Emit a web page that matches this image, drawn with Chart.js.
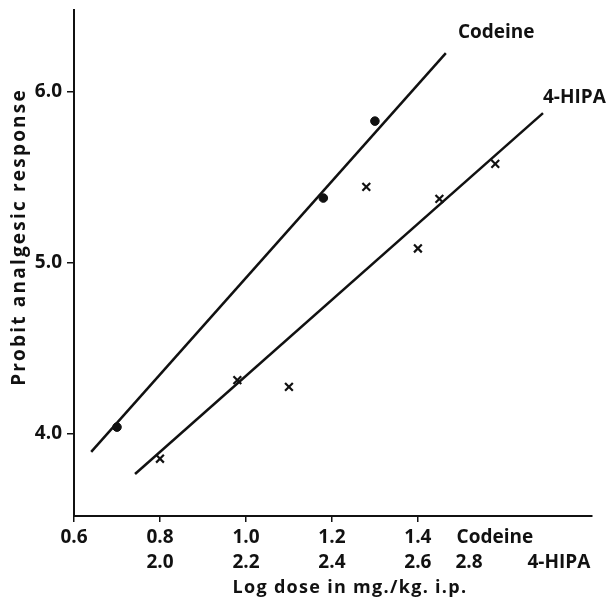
<!DOCTYPE html>
<html>
<head>
<meta charset="utf-8">
<script src="https://cdn.jsdelivr.net/npm/chart.js@4.4.1/dist/chart.umd.min.js"></script>
<style>
  html, body { margin: 0; padding: 0; background: #fff; }
  #wrap { width: 610px; height: 598px; position: relative; }
</style>
</head>
<body>
<div id="wrap"><canvas id="probitChart"></canvas></div>
<script>
// ===== データ =====
// Codeine: 横軸は log dose (Codeine 目盛)
const codeineDose     = [0.70, 1.18, 1.30];
const codeineProbit   = [4.04, 5.38, 5.83];
// 回帰直線の両端
const codeineLineDose   = [0.64, 1.465];
const codeineLineProbit = [3.895, 6.228];

// 4-HIPA: 横軸は log dose (4-HIPA 目盛)
const hipaDose     = [2.00, 2.18, 2.30, 2.48, 2.60, 2.65, 2.78];
const hipaProbit   = [3.855, 4.315, 4.275, 5.445, 5.085, 5.375, 5.58];
const hipaLineDose   = [1.942, 2.891];
const hipaLineProbit = [3.766, 5.877];

// 目盛ラベル
const codeineTicks = [0.6, 0.8, 1.0, 1.2, 1.4];
const hipaTicks    = ["", "2.0", "2.2", "2.4", "2.6"];
const yTicks       = [4.0, 5.0, 6.0];

const FONT = "'Open Sans', Lato, sans-serif";
const INK  = "#111";

const toXY = (xs, ys) => xs.map((x, i) => ({ x: x, y: ys[i] }));

// 2段目の余りラベル（位置はCodeine目盛の値で指定）
const extraTicks = [
  { value: 1.519, label: ["", "2.8"] },
  { value: 1.579, label: ["Codeine", ""] },
  { value: 1.728, label: ["", "4-HIPA"] }
];

// ── 軸タイトルと直線のラベルを描くプラグイン ──
const textPlugin = {
  id: "probitText",
  afterDraw(chart) {
    const ctx = chart.ctx;
    const x = chart.scales.x, y = chart.scales.y;
    ctx.save();
    ctx.fillStyle = INK;
    ctx.textBaseline = "middle";

    // 直線の名前
    ctx.font = "bold 19px " + FONT;
    ctx.textAlign = "left";
    ctx.fillText("Codeine", x.getPixelForValue(1.493), y.getPixelForValue(6.345));
    ctx.fillText("4-HIPA", x.getPixelForValue(1.691), y.getPixelForValue(5.97));

    // X軸タイトル（元図は字間が広い）
    ctx.font = "bold 18px " + FONT;
    ctx.textAlign = "center";
    ctx.letterSpacing = "1.3px";
    ctx.fillText("Log dose in mg./kg. i.p.", 350, 588);

    // Y軸タイトル
    ctx.font = "bold 19px " + FONT;
    ctx.letterSpacing = "2.2px";
    ctx.translate(20, 237);
    ctx.rotate(-Math.PI / 2);
    ctx.fillText("Probit analgesic response", 0, 0);
    ctx.restore();
  }
};

new Chart(document.getElementById("probitChart"), {
  type: "scatter",
  data: {
    datasets: [
      {
        label: "Codeine",
        data: toXY(codeineDose, codeineProbit),
        xAxisID: "x",
        pointStyle: "circle",
        pointRadius: 4.3,
        backgroundColor: INK,
        borderColor: INK
      },
      {
        label: "Codeine fit",
        type: "line",
        data: toXY(codeineLineDose, codeineLineProbit),
        xAxisID: "x",
        borderColor: INK,
        borderWidth: 2.5,
        pointRadius: 0,
        fill: false
      },
      {
        label: "4-HIPA",
        data: toXY(hipaDose, hipaProbit),
        xAxisID: "x2",
        pointStyle: "crossRot",
        pointRadius: 5.5,
        borderWidth: 2.2,
        borderColor: INK,
        backgroundColor: INK
      },
      {
        label: "4-HIPA fit",
        type: "line",
        data: toXY(hipaLineDose, hipaLineProbit),
        xAxisID: "x2",
        borderColor: INK,
        borderWidth: 2.5,
        pointRadius: 0,
        fill: false
      }
    ]
  },
  options: {
    responsive: true,
    maintainAspectRatio: false,
    animation: false,
    layout: { padding: { top: 10, right: 18, left: 0, bottom: 0 } },
    plugins: {
      legend: { display: false },
      tooltip: { enabled: false }
    },
    scales: {
      x: {
        type: "linear",
        min: 0.6,
        max: 1.805,
        afterBuildTicks: scale => {
          scale.ticks = codeineTicks.map(v => ({ value: v }))
            .concat(extraTicks.map(t => ({ value: t.value })));
        },
        afterFit: scale => { scale.height = 82; },
        border: { color: INK, width: 2 },
        grid: {
          drawOnChartArea: false,
          drawTicks: true,
          tickLength: 6,
          lineWidth: 1.5,
          color: ctx => (ctx.index < codeineTicks.length ? INK : "rgba(0,0,0,0)")
        },
        ticks: {
          autoSkip: false,
          maxRotation: 0,
          padding: 3,
          color: INK,
          font: { family: FONT, size: 19, weight: "bold", lineHeight: 1.32 },
          callback: function (value, index) {
            if (index < codeineTicks.length) {
              return [codeineTicks[index].toFixed(1), hipaTicks[index]];
            }
            return extraTicks[index - codeineTicks.length].label;
          }
        }
      },
      // 4-HIPA 用の横軸（表示しない・同じ幅に重ねる）
      x2: {
        type: "linear",
        display: false,
        min: 1.8,
        max: 3.005
      },
      y: {
        type: "linear",
        min: 3.52,
        max: 6.48,
        afterBuildTicks: scale => {
          scale.ticks = yTicks.map(v => ({ value: v }));
        },
        afterFit: scale => {
          scale.width = 74;
          scale.paddingTop = 0;
          scale.paddingBottom = 0;
        },
        border: { color: INK, width: 2 },
        grid: {
          drawOnChartArea: false,
          drawTicks: true,
          tickLength: 7,
          lineWidth: 1.5,
          color: INK
        },
        ticks: {
          padding: 5,
          color: INK,
          font: { family: FONT, size: 19, weight: "bold" },
          callback: v => v.toFixed(1)
        }
      }
    }
  },
  plugins: [textPlugin]
});
</script>
</body>
</html>
